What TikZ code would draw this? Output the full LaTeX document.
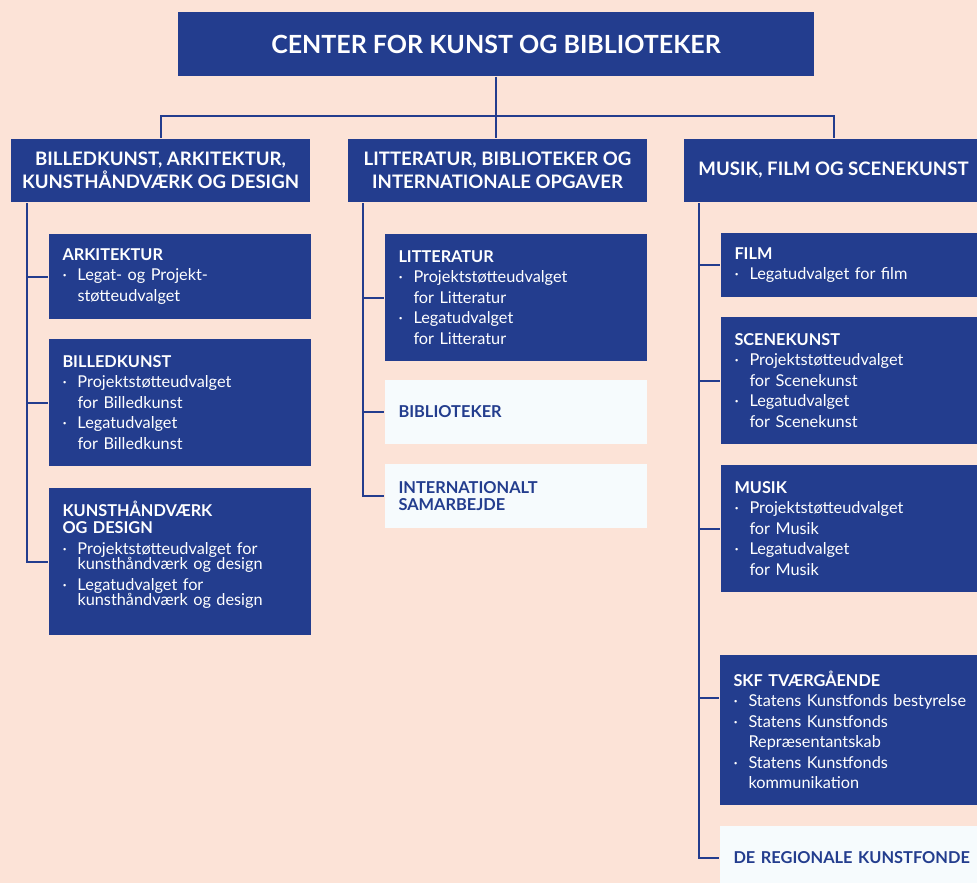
\documentclass[tikz,border=0pt]{standalone}
\usepackage{fontspec}
\setmainfont{Lato}
\usetikzlibrary{positioning}
\definecolor{skfblue}{HTML}{233D8E}
\definecolor{skfpeach}{HTML}{FCE3D7}
\definecolor{skflight}{HTML}{F6FBFD}
\newcommand{\bul}{\makebox[15pt][l]{·}}
\newcommand{\ind}{\hspace*{15pt}}
\tikzset{
every picture/.style={line width=2pt},
topbox/.style={fill=skfblue, text=white, font=\fontsize{25}{30}\selectfont\bfseries,
  minimum width=636pt, minimum height=64pt, anchor=north west, inner sep=0pt},
areabox/.style={fill=skfblue, text=white, font=\fontsize{18.6}{23}\selectfont\bfseries,
  minimum width=299pt, minimum height=63pt, align=center, anchor=north west, inner sep=0pt},
unitbox/.style={fill=skfblue, text=white, font=\fontsize{16.3}{20.5}\selectfont,
  text width=235pt, inner xsep=13.5pt, inner ysep=0pt, align=left, anchor=north west},
lightbox/.style={fill=skflight, text=skfblue, font=\fontsize{16.4}{17}\selectfont\bfseries,
  text width=235pt, inner xsep=13.5pt, inner ysep=0pt, align=left, anchor=north west,
  minimum height=64pt},
link/.style={draw=skfblue}
}
\begin{document}
\begin{tikzpicture}[x=1pt, y=-1pt]
    \fill[skfpeach] (0,0) rectangle (977,883);
    \useasboundingbox (0,0) rectangle (977,883);
    \node[topbox] (ckb) at (177,11) {CENTER FOR KUNST OG BIBLIOTEKER};
    \node[areabox] (bil) at (10,138) {BILLEDKUNST, ARKITEKTUR,\\KUNSTHÅNDVÆRK OG DESIGN};
    \node[areabox] (lit) at (347,138) {LITTERATUR, BIBLIOTEKER OG\\INTERNATIONALE OPGAVER};
    \node[areabox] (mus) at (683,138) {MUSIK, FILM OG SCENEKUNST};

    \node[unitbox, minimum height=85pt] (ark) at (48,233) {\textbf{ARKITEKTUR}\\
      \bul Legat- og Projekt-\\\ind støtteudvalget};
    \node[unitbox, minimum height=127pt] (bkt) at (48,338) {\textbf{BILLEDKUNST}\\
      \bul Projektstøtteudvalget\\\ind for Billedkunst\\
      \bul Legatudvalget\\\ind for Billedkunst};
    \node[unitbox, minimum height=147pt] (khd) at (48,487) {\textbf{KUNSTHÅNDVÆRK}\\[-3.5pt]\textbf{OG DESIGN}\\
      \bul Projektstøtteudvalget for\\[-5pt]\ind kunsthåndværk og design\\
      \bul Legatudvalget for\\[-5pt]\ind kunsthåndværk og design\par\vspace*{13pt}};

    \node[unitbox, minimum height=127pt] (ltt) at (384,233) {\textbf{LITTERATUR}\\
      \bul Projektstøtteudvalget\\\ind for Litteratur\\
      \bul Legatudvalget\\\ind for Litteratur};
    \node[lightbox] (bib) at (384,379) {BIBLIOTEKER};
    \node[lightbox] (int) at (384,463) {INTERNATIONALT\\SAMARBEJDE};

    \node[unitbox, minimum height=64pt] (flm) at (720,232) {\textbf{FILM}\\
      \bul Legatudvalget for film};
    \node[unitbox, minimum height=127pt] (scn) at (720,316) {\textbf{SCENEKUNST}\\
      \bul Projektstøtteudvalget\\\ind for Scenekunst\\
      \bul Legatudvalget\\\ind for Scenekunst};
    \node[unitbox, minimum height=127pt] (msk) at (720,464) {\textbf{MUSIK}\\
      \bul Projektstøtteudvalget\\\ind for Musik\\
      \bul Legatudvalget\\\ind for Musik};
    \node[unitbox, minimum height=150pt, text width=260pt] (skf) at (719,654) {\textbf{SKF TVÆRGÅENDE}\\
      \bul Statens Kunstfonds bestyrelse\\
      \bul Statens Kunstfonds\\\ind Repræsentantskab\\
      \bul Statens Kunstfonds\\\ind kommunikation};
    \node[lightbox, text width=260pt] (reg) at (719,825) {DE REGIONALE KUNSTFONDE};

    \coordinate (bar) at (0,116);
    \coordinate (sL) at (27,0);
    \coordinate (sM) at (363,0);
    \coordinate (sR) at (699,0);
    \coordinate (skfin) at ([yshift=32pt]skf.west);
    \draw[link] (ckb.south) -- (ckb.south |- lit.north);
    \draw[link] (bil.north) -- (bil.north |- bar) -- (mus.north |- bar) -- (mus.north);

    \draw[link] (bil.south -| sL) -- (sL |- khd.west) -- (khd.west);
    \draw[link] (sL |- ark.west) -- (ark.west);
    \draw[link] (sL |- bkt.west) -- (bkt.west);

    \draw[link] (lit.south -| sM) -- (sM |- int.west) -- (int.west);
    \draw[link] (sM |- ltt.west) -- (ltt.west);
    \draw[link] (sM |- bib.west) -- (bib.west);

    \draw[link] (mus.south -| sR) -- (sR |- reg.west) -- (reg.west);
    \draw[link] (sR |- flm.west) -- (flm.west);
    \draw[link] (sR |- scn.west) -- (scn.west);
    \draw[link] (sR |- msk.west) -- (msk.west);
    \draw[link] (sR |- skfin) -- (skfin);
\end{tikzpicture}
\end{document}
